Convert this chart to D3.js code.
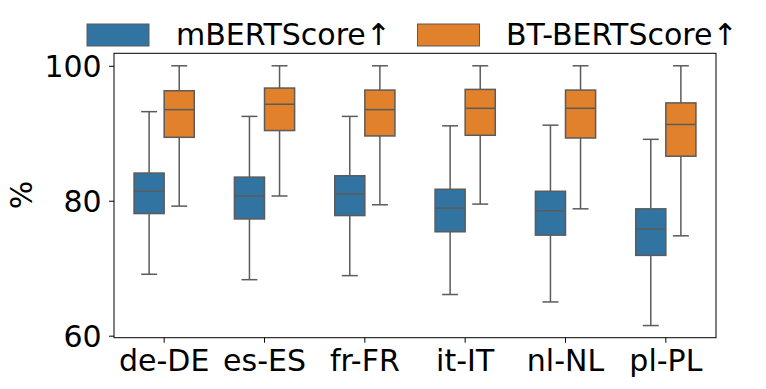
<!DOCTYPE html>
<html>
<head>
<meta charset="utf-8">
<script src="https://cdn.jsdelivr.net/npm/d3@7"></script>
<style>
  body { margin: 0; background: white; }
  text { font-family: "DejaVu Sans"; }
</style>
</head>
<body>
<div id="paper"></div>
<script>
const langs = ["de-DE", "es-ES", "fr-FR", "it-IT", "nl-NL", "pl-PL"];
const seriesNames = ["mBERTScore\u2191", "BT-BERTScore\u2191"];
const yTicks = [60, 80, 100];

// [whisker low, q1, median, q3, whisker high]
const mbert = [
  [69.1, 78.1, 81.4, 84.1, 93.2],
  [68.3, 77.3, 80.7, 83.5, 92.5],
  [68.9, 77.8, 81.0, 83.7, 92.5],
  [66.1, 75.4, 78.9, 81.7, 91.1],
  [65.0, 74.9, 78.5, 81.4, 91.2],
  [61.5, 71.9, 75.8, 78.8, 89.1]
];
const btbert = [
  [79.2, 89.4, 93.5, 96.3, 100],
  [80.7, 90.4, 94.3, 96.7, 100],
  [79.4, 89.6, 93.5, 96.4, 100],
  [79.5, 89.7, 93.7, 96.5, 100],
  [78.8, 89.3, 93.7, 96.4, 100],
  [74.8, 86.6, 91.3, 94.5, 100]
];
const colors = ["#3274a1", "#e1812c"];
const lineColor = "#5b5b5b";

const W = 766, H = 389;
const m = {left: 114, right: 716, top: 53.3, bottom: 337.7};

const svg = d3.select("#paper")
  .append("svg")
  .attr("width", W)
  .attr("height", H);

const x = d3.scaleBand().domain(langs).range([m.left, m.right]).padding(0);
const y = d3.scaleLinear().domain([59.7, 101.85]).range([m.bottom, m.top]);

const boxW = x.bandwidth() * 0.3;
const capW = boxW * 0.53;

const series = [mbert, btbert];
series.forEach((vals, si) => {
  const g = svg.append("g").attr("class", "series" + si);
  const rows = langs.map((l, i) => ({lang: l, v: vals[i], cx: x(l) + x.bandwidth() / 2 + (si === 0 ? -boxW / 2 : boxW / 2)}));

  g.selectAll(".whisker")
    .data(rows)
    .join("g")
    .each(function(d) {
      const s = d3.select(this);
      s.append("line").attr("x1", d.cx).attr("x2", d.cx).attr("y1", y(d.v[0])).attr("y2", y(d.v[1]));
      s.append("line").attr("x1", d.cx).attr("x2", d.cx).attr("y1", y(d.v[3])).attr("y2", y(d.v[4]));
      s.append("line").attr("x1", d.cx - capW / 2).attr("x2", d.cx + capW / 2).attr("y1", y(d.v[0])).attr("y2", y(d.v[0]));
      s.append("line").attr("x1", d.cx - capW / 2).attr("x2", d.cx + capW / 2).attr("y1", y(d.v[4])).attr("y2", y(d.v[4]));
    })
    .selectAll("line")
    .attr("stroke", lineColor)
    .attr("stroke-width", 1.5);

  g.selectAll(".box")
    .data(rows)
    .join("rect")
    .attr("x", d => d.cx - boxW / 2)
    .attr("width", boxW)
    .attr("y", d => y(d.v[3]))
    .attr("height", d => y(d.v[1]) - y(d.v[3]))
    .attr("fill", colors[si])
    .attr("stroke", lineColor)
    .attr("stroke-width", 1.5);

  g.selectAll(".median")
    .data(rows)
    .join("line")
    .attr("x1", d => d.cx - boxW / 2)
    .attr("x2", d => d.cx + boxW / 2)
    .attr("y1", d => y(d.v[2]))
    .attr("y2", d => y(d.v[2]))
    .attr("stroke", lineColor)
    .attr("stroke-width", 1.5);
});

// axes
const xAxis = svg.append("g")
  .attr("transform", `translate(0,${m.bottom})`)
  .call(d3.axisBottom(x).tickSize(5).tickPadding(4));
xAxis.select(".domain").remove();
xAxis.selectAll("text")
  .attr("font-size", 30).attr("fill", "black")
  .attr("y", 371 - m.bottom).attr("dy", null);
xAxis.selectAll("line").attr("stroke", "black");

const yAxis = svg.append("g")
  .attr("transform", `translate(${m.left},0)`)
  .call(d3.axisLeft(y).tickValues(yTicks).tickSize(5).tickPadding(6));
yAxis.select(".domain").remove();
yAxis.selectAll("text")
  .attr("font-size", 30).attr("fill", "black")
  .attr("x", 101.7 - m.left).attr("dy", "0.37em");
yAxis.selectAll("line").attr("stroke", "black");

svg.append("rect")
  .attr("x", m.left).attr("y", m.top)
  .attr("width", m.right - m.left).attr("height", m.bottom - m.top)
  .attr("fill", "none").attr("stroke", "black").attr("stroke-width", 1);

svg.append("text")
  .attr("transform", `translate(32,195) rotate(-90)`)
  .attr("text-anchor", "middle")
  .attr("font-size", 30)
  .text("%");

// legend
const legendX = [87, 417.5];
const leg = svg.selectAll(".legend")
  .data(seriesNames)
  .join("g")
  .attr("transform", (d, i) => `translate(${legendX[i]},24)`);
leg.append("rect")
  .attr("width", 62).attr("height", 22)
  .attr("fill", (d, i) => colors[i])
  .attr("stroke", lineColor).attr("stroke-width", 1);
leg.append("text")
  .attr("x", (d, i) => i === 0 ? 89 : 88.5)
  .attr("y", 21)
  .attr("font-size", 30)
  .text(d => d);
</script>
</body>
</html>
